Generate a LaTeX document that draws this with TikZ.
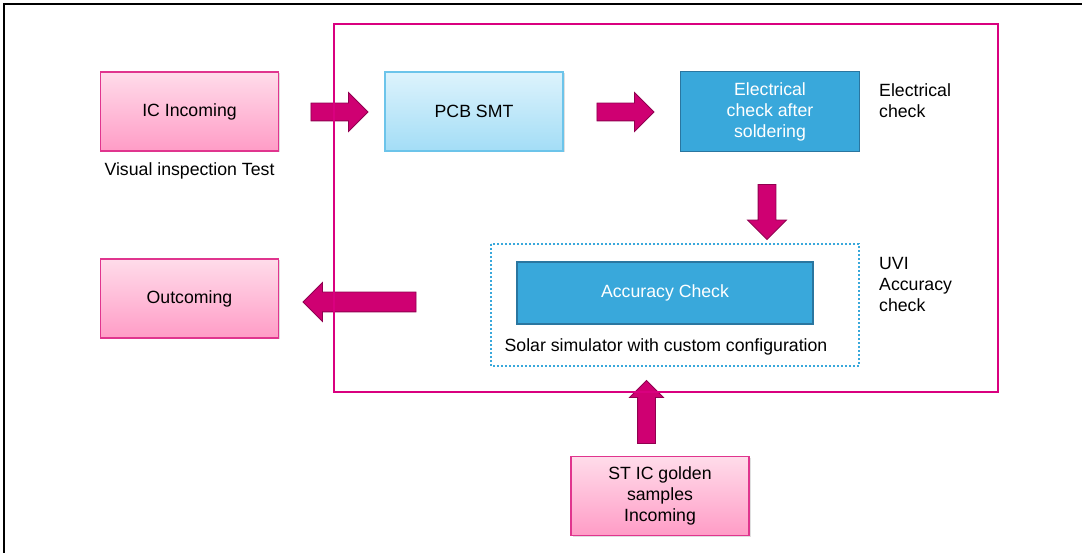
\documentclass[tikz,border=0pt]{standalone}
\usepackage{fontspec}
\setmainfont{Liberation Sans}
\usetikzlibrary{shapes.arrows,shadows}

\definecolor{pinktop}{HTML}{FFDCEA}
\definecolor{pinkbot}{HTML}{FF9CC6}
\definecolor{pinkedge}{HTML}{E0358E}
\definecolor{framemag}{HTML}{D9007F}
\definecolor{arrowfill}{HTML}{CF0072}
\definecolor{arrowedge}{HTML}{900050}
\definecolor{lbluetop}{HTML}{DDF3FC}
\definecolor{lbluebot}{HTML}{A3DDF6}
\definecolor{lblueedge}{HTML}{6CC4EA}
\definecolor{dblue}{HTML}{39A8DB}
\definecolor{dblueedge}{HTML}{2A76A0}

\begin{document}
\begin{tikzpicture}[x=1pt, y=-1pt,
    font=\fontsize{17.7}{21}\selectfont,
    pinkbox/.style={draw=pinkedge, line width=1.3pt, top color=pinktop, bottom color=pinkbot,
        minimum width=178pt, minimum height=79pt, align=center,
        drop shadow={shadow xshift=1.5pt, shadow yshift=-1.5pt, opacity=0.25}},
    lightbox/.style={draw=lblueedge, line width=1.3pt, top color=lbluetop, bottom color=lbluebot,
        minimum width=178pt, minimum height=79pt, align=center,
        drop shadow={shadow xshift=1.5pt, shadow yshift=-1.5pt, opacity=0.25}},
    darkbox/.style={draw=dblueedge, line width=1.5pt, fill=dblue, text=white, align=center},
    blockarrow/.style={single arrow, draw=arrowedge, fill=arrowfill, line width=0.8pt,
        inner xsep=0pt, inner ysep=8.5pt, single arrow head extend=10.5pt, minimum height=#1},
    uparrow/.style={blockarrow=#1, inner xsep=8.5pt, inner ysep=0pt},
    sidelabel/.style={anchor=west, inner sep=0pt, align=left}]
    \useasboundingbox (0,0) rectangle (1082,553);
    % outer frame
    \draw[line width=2pt] (4,553) -- (4,4) -- (1082,4);

    % boxes
    \node[pinkbox] (incoming) at (189.5,111.5) {IC Incoming};
    \node (visual) at (189.5,171) {Visual inspection Test};
    \node[lightbox] (pcb) at (474,111.5) {PCB SMT};
    \node[darkbox, minimum width=179pt, minimum height=80pt] (elec) at (770,111.5) {Electrical\\check after\\soldering};
    \node[sidelabel] (eleclabel) at (879,100.5) {Electrical\\check};
    \node[darkbox, minimum width=296pt, minimum height=62pt] (accuracy) at (665,293) {Accuracy Check};
    \node (solar) at (666,347) {Solar simulator with custom configuration};
    \node[sidelabel] (uvilabel) at (879,284.5) {UVI\\Accuracy\\check};
    \node[pinkbox] (outcoming) at (189.5,298.5) {Outcoming};
    \node[pinkbox] (golden) at (660,496) {ST IC golden\\samples\\Incoming};

    % dotted frame round the accuracy check
    \draw[dblue, line width=2pt, dotted] (491,244) rectangle (859,366);

    % block arrows
    \node[blockarrow=57pt] (a1) at (335,112) {};
    \node[blockarrow=57pt] (a2) at (621,112) {};
    \node[uparrow=55pt, shape border rotate=270] (a3) at (767,207.5) {};
    \node[blockarrow=113pt, shape border rotate=180, inner ysep=9.5pt, single arrow head extend=9.5pt] (a4) at (364.5,302) {};
    \node[uparrow=63pt, shape border rotate=90, single arrow head extend=8pt] (a5) at (646.5,416.5) {};

    % process frame
    \draw[framemag, line width=2.5pt] (334,24) rectangle (998,392);
\end{tikzpicture}
\end{document}
